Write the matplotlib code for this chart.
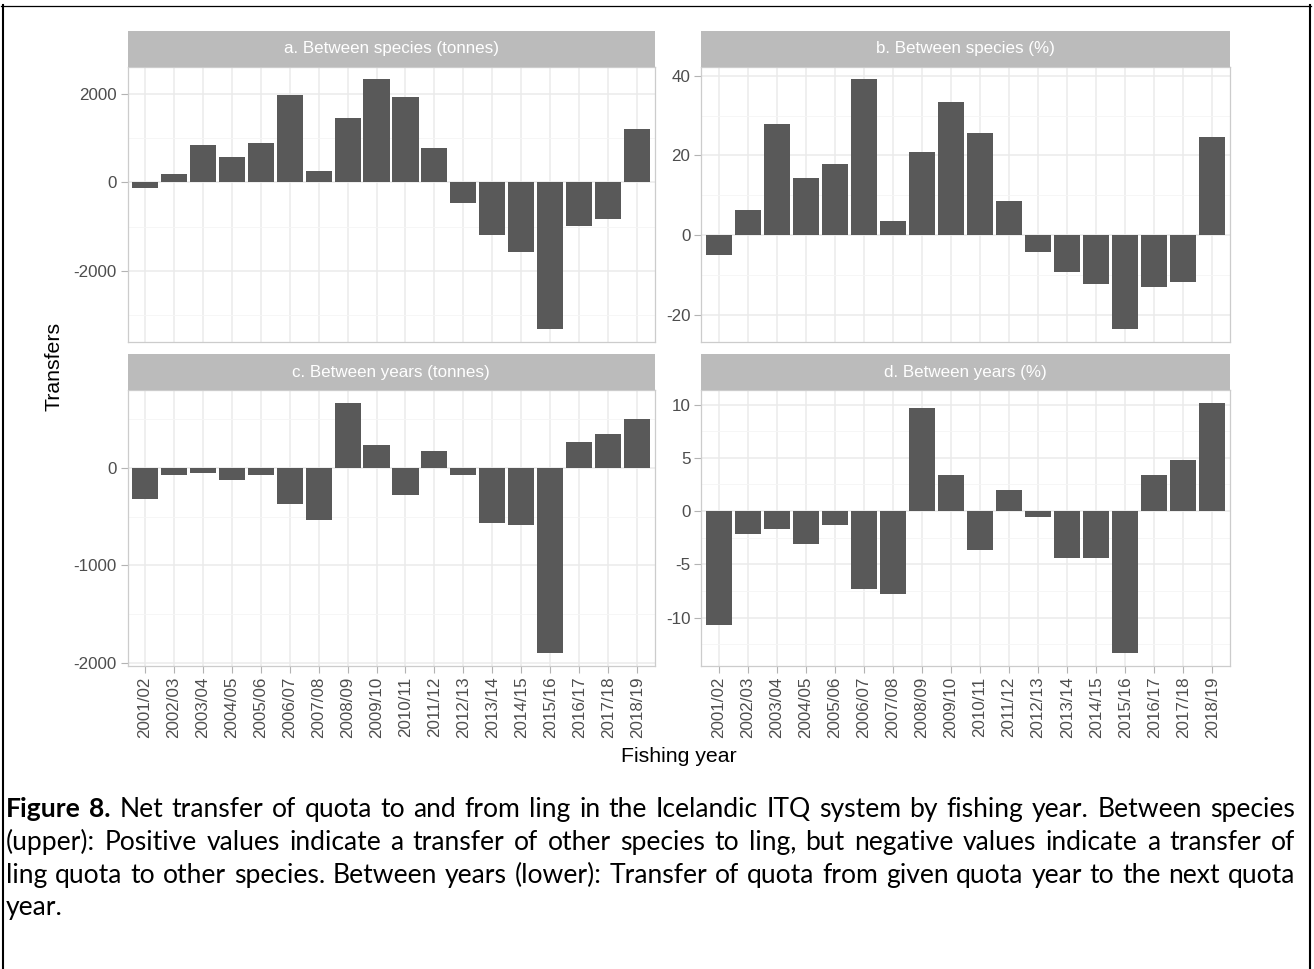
import matplotlib
matplotlib.use('Agg')
import matplotlib.pyplot as plt
from matplotlib.ticker import MultipleLocator, FuncFormatter
from matplotlib.lines import Line2D

plt.rcParams['axes.unicode_minus'] = False
plt.rcParams['font.family'] = ['Liberation Sans', 'DejaVu Sans']

# ---------------- data ----------------
years = ["2001/02", "2002/03", "2003/04", "2004/05", "2005/06", "2006/07",
         "2007/08", "2008/09", "2009/10", "2010/11", "2011/12", "2012/13",
         "2013/14", "2014/15", "2015/16", "2016/17", "2017/18", "2018/19"]

species_tonnes = [-130, 195, 850, 587, 895, 1970, 263, 1459, 2339, 1933, 775,
                  -459, -1196, -1572, -3324, -985, -820, 1218]
species_pct = [-4.8, 6.3, 28.0, 14.4, 17.9, 39.1, 3.6, 20.8, 33.4, 25.6, 8.6,
               -4.1, -9.2, -12.1, -23.5, -12.9, -11.6, 24.7]
years_tonnes = [-321, -68, -55, -123, -68, -372, -539, 672, 239, -280, 174,
                -72, -566, -590, -1903, 266, 344, 501]
years_pct = [-10.66, -2.16, -1.69, -3.09, -1.34, -7.34, -7.75, 9.63, 3.41,
             -3.63, 2.0, -0.56, -4.38, -4.41, -13.34, 3.41, 4.75, 10.19]

panel_titles = ["a. Between species (tonnes)", "b. Between species (%)",
                "c. Between years (tonnes)", "d. Between years (%)"]
major_steps = [2000, 20, 1000, 5]

x_title = "Fishing year"
y_title = "Transfers"

caption_bold = "Figure 8."
caption_lines = [
    "Net transfer of quota to and from ling in the Icelandic ITQ system by fishing year. Between species",
    "(upper): Positive values indicate a transfer of other species to ling, but negative values indicate a transfer of",
    "ling quota to other species. Between years (lower): Transfer of quota from given quota year to the next quota",
    "year.",
]

# ---------------- layout ----------------
W, H = 1314, 969
fig = plt.figure(figsize=(W / 100, H / 100), dpi=100)


def fr(x0, y0, x1, y1):
    return [x0 / W, 1 - y1 / H, (x1 - x0) / W, (y1 - y0) / H]


cols = [(127.5, 654.5), (701.4, 1229.7)]
rows = [(30.7, 66.7, 341.7), (354.3, 390.0, 665.7)]

series = [species_tonnes, species_pct, years_tonnes, years_pct]

BAR = '#595959'
GRID_MAJ = '#EBEBEB'
GRID_MIN = '#F5F5F5'
BORDER = '#CCCCCC'
TICKC = '#B3B3B3'
LABC = '#4D4D4D'
STRIP = '#BBBBBB'
FS_TICK = 12.25
FS_TITLE = 15.3

for i, vals in enumerate(series):
    r, c = divmod(i, 2)
    x0, x1 = cols[c]
    ys, yt, yb = rows[r]
    ax = fig.add_axes(fr(x0, yt, x1, yb))
    st = fig.add_axes(fr(x0, ys, x1, yt))

    # strip
    st.set_facecolor(STRIP)
    st.set_xticks([])
    st.set_yticks([])
    for sp in st.spines.values():
        sp.set_visible(False)
    st.text(0.5, 0.5, panel_titles[i], color='white', fontsize=FS_TICK,
            ha='center', va='center', transform=st.transAxes)

    pos = list(range(len(years)))
    ax.bar(pos, vals, width=0.9, color=BAR, zorder=3, linewidth=0)
    ax.set_xlim(-0.6, len(years) - 0.4)
    lo, hi = min(vals), max(vals)
    span = hi - lo
    ax.set_ylim(lo - 0.05 * span, hi + 0.05 * span)

    step = major_steps[i]
    ax.yaxis.set_major_locator(MultipleLocator(step))
    ax.yaxis.set_minor_locator(MultipleLocator(step / 2))
    ax.yaxis.set_major_formatter(FuncFormatter(lambda v, p: f'{v:g}'))
    ax.set_xticks(pos)
    ax.set_xticklabels(years, rotation=90)

    ax.set_axisbelow(True)
    ax.grid(which='major', color=GRID_MAJ, linewidth=1.1)
    ax.grid(which='minor', axis='y', color=GRID_MIN, linewidth=0.6)
    for sp in ax.spines.values():
        sp.set_color(BORDER)
        sp.set_linewidth(0.9)
        sp.set_zorder(4)

    ax.tick_params(which='major', length=4.75, width=0.8, color=TICKC,
                   labelsize=FS_TICK, labelcolor=LABC, pad=3.2)
    ax.tick_params(which='minor', length=0)
    if r == 0:
        ax.tick_params(axis='x', length=0, labelbottom=False)

fig.text(678.6 / W, 1 - 756.7 / H, x_title, ha='center', va='center',
         fontsize=FS_TITLE, color='black')
fig.text(54.5 / W, 1 - 366.5 / H, y_title, ha='center', va='center',
         rotation=90, fontsize=FS_TITLE, color='black')

# frame lines around the figure block
fig.add_artist(Line2D([1 / W, 1311 / W], [1 - 5.5 / H, 1 - 5.5 / H],
                      color='black', linewidth=0.9, transform=fig.transFigure))
fig.add_artist(Line2D([3 / W, 3 / W], [1 - 5 / H, 0], color='black',
                      linewidth=1.5, transform=fig.transFigure))
fig.add_artist(Line2D([1310 / W, 1310 / W], [1 - 5 / H, 0], color='black',
                      linewidth=1.5, transform=fig.transFigure))

# ---------------- caption (justified) ----------------
renderer = fig.canvas.get_renderer()
CAP_FONT = ['Lato', 'DejaVu Sans']


def tw(s, size, weight='normal'):
    t = fig.text(0, 0, s, fontsize=size, family=CAP_FONT, weight=weight)
    w = t.get_window_extent(renderer).width
    t.remove()
    return w


words_per_line = []
for k, line in enumerate(caption_lines):
    ws = [(w, 'normal') for w in line.split(' ')]
    if k == 0:
        ws = [(w, 'bold') for w in caption_bold.split(' ')] + ws
    words_per_line.append(ws)

x_left, x_right = 6.0, 1295.0
target = x_right - x_left
s0 = 10.0
space0 = tw('a a', s0) - tw('aa', s0)
nat = []
for ws in words_per_line[:-1]:
    nat.append(sum(tw(w, s0, wt) for w, wt in ws) + space0 * (len(ws) - 1))
cap_size = s0 * target / max(nat) * 0.985

baselines = [817.3, 850.0, 882.7, 915.3]
space = tw('a a', cap_size) - tw('aa', cap_size)
for k, ws in enumerate(words_per_line):
    widths = [tw(w, cap_size, wt) for w, wt in ws]
    if k < len(words_per_line) - 1 and len(ws) > 1:
        gap = (target - sum(widths)) / (len(ws) - 1)
    else:
        gap = space
    x = x_left
    for (w, wt), wd in zip(ws, widths):
        fig.text(x / W, 1 - baselines[k] / H, w, fontsize=cap_size,
                 family=CAP_FONT, weight=wt, ha='left', va='baseline',
                 color='black')
        x += wd + gap

fig.savefig('out.png', dpi=100)
